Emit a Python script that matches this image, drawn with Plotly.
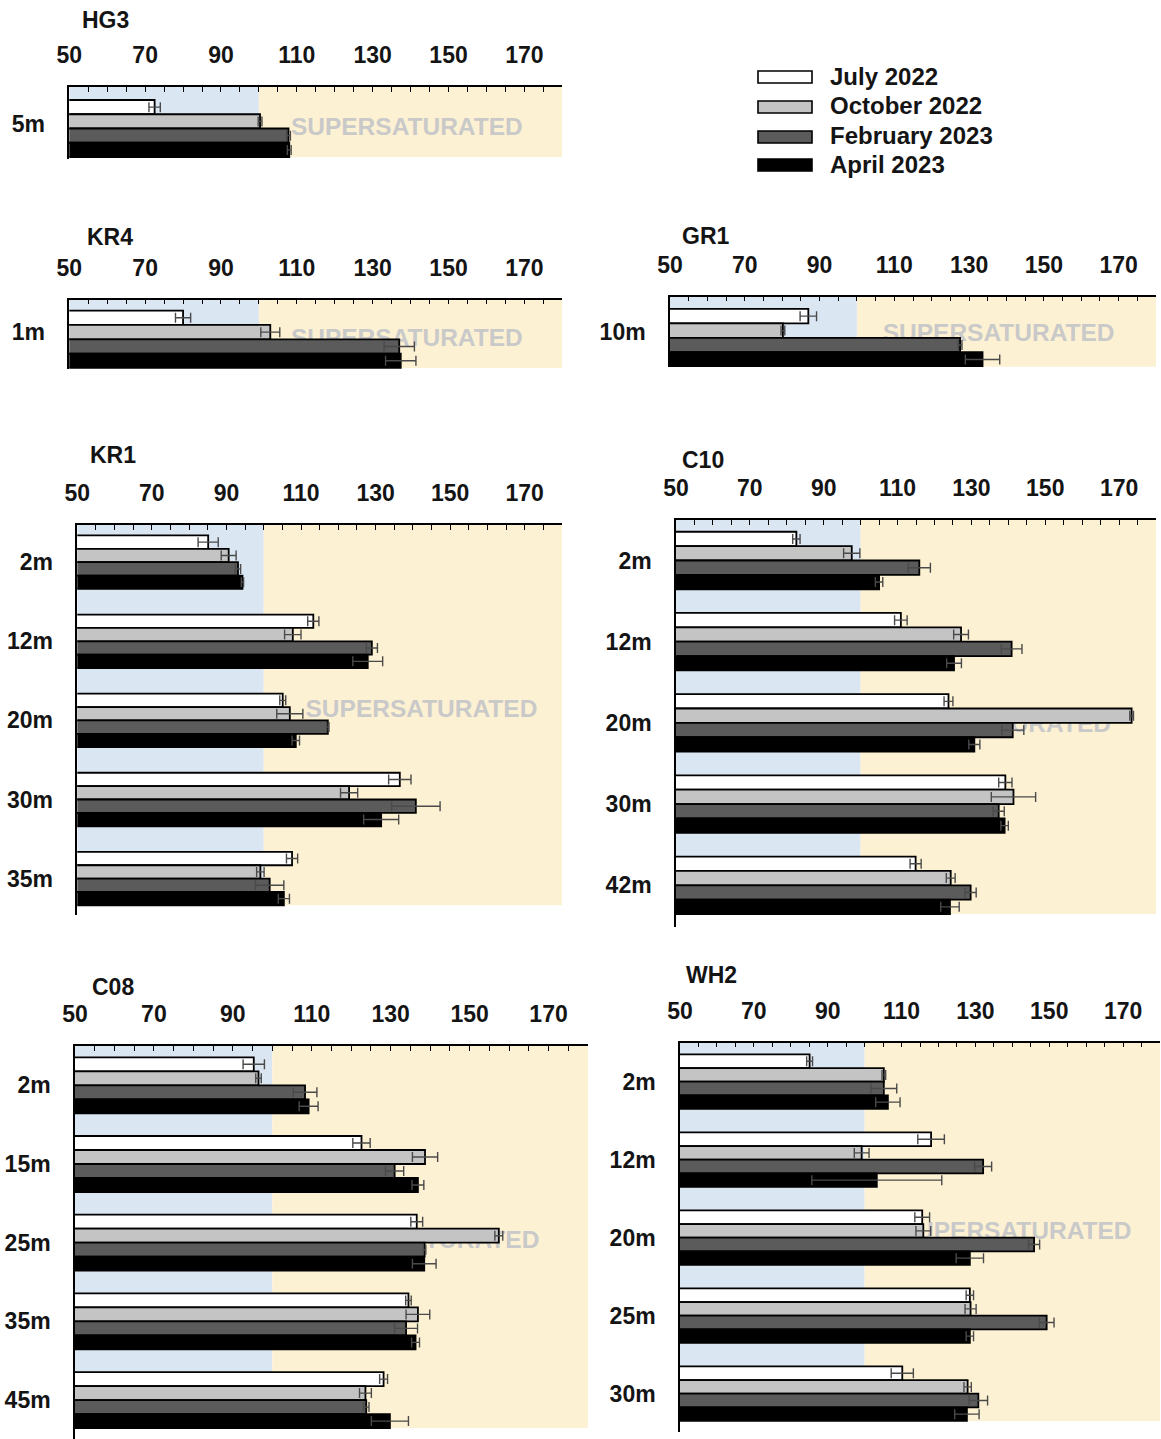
import plotly.graph_objects as go

W, H = 1161, 1439

SERIES = ["July 2022", "October 2022", "February 2023", "April 2023"]
X_TICKS = [50, 70, 90, 110, 130, 150, 170]

# ---------------- station data (% saturation, mean and error) ----------------
hg3_depth = ["5m"]
hg3_jul, hg3_jul_sd = [72.5], [1.5]
hg3_oct, hg3_oct_sd = [100.3], [0.5]
hg3_feb, hg3_feb_sd = [107.8], [0.5]
hg3_apr, hg3_apr_sd = [108.0], [0.5]

kr4_depth = ["1m"]
kr4_jul, kr4_jul_sd = [80.0], [2.0]
kr4_oct, kr4_oct_sd = [103.0], [2.5]
kr4_feb, kr4_feb_sd = [137.0], [4.0]
kr4_apr, kr4_apr_sd = [137.4], [4.0]

gr1_depth = ["10m"]
gr1_jul, gr1_jul_sd = [87.0], [2.2]
gr1_oct, gr1_oct_sd = [80.2], [0.5]
gr1_feb, gr1_feb_sd = [127.6], [0.5]
gr1_apr, gr1_apr_sd = [133.6], [4.6]

kr1_depth = ["2m", "12m", "20m", "30m", "35m"]
kr1_jul, kr1_jul_sd = [85.1, 113.3, 105.1, 136.5, 107.6], [2.7, 1.5, 0.8, 3.0, 1.5]
kr1_oct, kr1_oct_sd = [90.6, 107.8, 107.0, 122.9, 99.1], [2.0, 2.2, 3.5, 2.3, 1.0]
kr1_feb, kr1_feb_sd = [93.1, 129.0, 117.2, 140.8, 101.6], [0.7, 1.5, 0.3, 6.5, 3.8]
kr1_apr, kr1_apr_sd = [94.3, 127.9, 108.6, 131.5, 105.4], [0.3, 4.0, 1.0, 4.7, 1.5]

c10_depth = ["2m", "12m", "20m", "30m", "42m"]
c10_jul, c10_jul_sd = [82.6, 110.9, 123.8, 139.2, 114.9], [1.0, 1.7, 1.2, 1.8, 1.5]
c10_oct, c10_oct_sd = [97.6, 127.2, 173.4, 141.4, 124.4], [2.2, 2.0, 0.5, 6.0, 1.2]
c10_feb, c10_feb_sd = [115.9, 140.9, 141.2, 137.4, 129.8], [3.0, 2.8, 3.0, 1.5, 1.5]
c10_apr, c10_apr_sd = [105.0, 125.3, 130.8, 139.0, 124.2], [1.0, 2.0, 1.5, 1.0, 2.5]

c08_depth = ["2m", "15m", "25m", "35m", "45m"]
c08_jul, c08_jul_sd = [95.3, 122.6, 136.6, 134.5, 128.2], [2.7, 2.2, 1.5, 0.7, 1.0]
c08_oct, c08_oct_sd = [96.5, 138.7, 157.4, 136.9, 123.6], [0.7, 3.2, 1.0, 3.0, 1.5]
c08_feb, c08_feb_sd = [108.3, 131.0, 138.6, 133.9, 123.8], [3.0, 2.3, 0.3, 2.9, 0.7]
c08_apr, c08_apr_sd = [109.2, 136.9, 138.5, 136.3, 129.8], [2.4, 1.5, 3.0, 1.0, 4.7]

wh2_depth = ["2m", "12m", "20m", "25m", "30m"]
wh2_jul, wh2_jul_sd = [85.1, 118.0, 115.6, 128.5, 110.2], [0.8, 3.6, 2.0, 1.0, 3.0]
wh2_oct, wh2_oct_sd = [105.2, 99.2, 115.9, 128.7, 127.9], [0.5, 2.0, 2.0, 1.5, 1.0]
wh2_feb, wh2_feb_sd = [105.2, 132.1, 145.9, 149.3, 130.8], [3.5, 2.3, 1.5, 2.0, 2.5]
wh2_apr, wh2_apr_sd = [106.3, 103.3, 128.5, 128.5, 127.7], [3.3, 17.6, 3.7, 1.0, 3.3]

# ---------------- styling ----------------
FONT = "Liberation Sans, Arial, sans-serif"
TEXT_COLOR = "#141414"
BAR_COLORS = ["#ffffff", "#c4c4c4", "#5b5b5b", "#000000"]
ERR_COLOR = "#4a4a4a"
UNDER_COLOR = "#dbe6f3"
OVER_COLOR = "#fdf1d3"
SAT_TEXT_COLOR = "#c9c9c9"

# panel geometry in page pixels: plot left/right, axis line (top), centre of first
# depth group, height of one group of four bars, spacing between groups, bottom of
# the depth axis line, title position, label position for the shaded region,
# and a small vertical nudge for the depth labels
PANELS = [
    dict(name="HG3", depth=hg3_depth,
         vals=[hg3_jul, hg3_oct, hg3_feb, hg3_apr],
         errs=[hg3_jul_sd, hg3_oct_sd, hg3_feb_sd, hg3_apr_sd],
         left=69.3, right=562.3, top=87, c0=128.5, gh=57, pitch=80, bottom=158.5,
         tx=80, ty=20, sx=139.0, sy=124, shift=5),
    dict(name="KR4", depth=kr4_depth,
         vals=[kr4_jul, kr4_oct, kr4_feb, kr4_apr],
         errs=[kr4_jul_sd, kr4_oct_sd, kr4_feb_sd, kr4_apr_sd],
         left=69.3, right=562.3, top=299.5, c0=339.3, gh=57.3, pitch=80, bottom=369,
         tx=85, ty=237, sx=139.0, sy=335, shift=7),
    dict(name="GR1", depth=gr1_depth,
         vals=[gr1_jul, gr1_oct, gr1_feb, gr1_apr],
         errs=[gr1_jul_sd, gr1_oct_sd, gr1_feb_sd, gr1_apr_sd],
         left=670, right=1156, top=296.5, c0=337.8, gh=57.7, pitch=80, bottom=367,
         tx=680, ty=236, sx=137.9, sy=330, shift=6),
    dict(name="KR1", depth=kr1_depth,
         vals=[kr1_jul, kr1_oct, kr1_feb, kr1_apr],
         errs=[kr1_jul_sd, kr1_oct_sd, kr1_feb_sd, kr1_apr_sd],
         left=77.3, right=562, top=525, c0=562.2, gh=53.5, pitch=79.1, bottom=915,
         tx=88, ty=455, sx=142.3, sy=706, shift=0),
    dict(name="C10", depth=c10_depth,
         vals=[c10_jul, c10_oct, c10_feb, c10_apr],
         errs=[c10_jul_sd, c10_oct_sd, c10_feb_sd, c10_apr_sd],
         left=676, right=1156, top=520, c0=560.5, gh=57.5, pitch=81.2, bottom=926.7,
         tx=680, ty=460, sx=136.4, sy=721, shift=0),
    dict(name="C08", depth=c08_depth,
         vals=[c08_jul, c08_oct, c08_feb, c08_apr],
         errs=[c08_jul_sd, c08_oct_sd, c08_feb_sd, c08_apr_sd],
         left=75, right=588, top=1046, c0=1085.3, gh=56, pitch=78.7, bottom=1439,
         tx=90, ty=987, sx=138.3, sy=1237, shift=0),
    dict(name="WH2", depth=wh2_depth,
         vals=[wh2_jul, wh2_oct, wh2_feb, wh2_apr],
         errs=[wh2_jul_sd, wh2_oct_sd, wh2_feb_sd, wh2_apr_sd],
         left=680, right=1160, top=1042.7, c0=1081.7, gh=54.5, pitch=78.0, bottom=1431.7,
         tx=684, ty=975, sx=140.9, sy=1228, shift=0),
]


def fx(px):
    return px / W


def fy(py):
    return 1 - py / H


fig = go.Figure()
shapes = []
annotations = []
layout = {}

for i, p in enumerate(PANELS, start=1):
    xa = "x" if i == 1 else f"x{i}"
    ya = "y" if i == 1 else f"y{i}"
    n = len(p["depth"])
    frac = p["gh"] / p["pitch"]
    top_val = -(p["c0"] - p["top"]) / p["pitch"]
    bot_val = (p["bottom"] - p["c0"]) / p["pitch"]
    bars_end = (n - 1) + frac / 2

    # shaded undersaturated / supersaturated regions
    shapes.append(dict(type="rect", xref=xa, yref=ya, x0=50, x1=100,
                       y0=top_val, y1=bars_end, fillcolor=UNDER_COLOR,
                       line=dict(width=0), layer="below"))
    shapes.append(dict(type="rect", xref=xa, yref=ya, x0=100, x1=180,
                       y0=top_val, y1=bars_end, fillcolor=OVER_COLOR,
                       line=dict(width=0), layer="below"))
    sy_val = (p["sy"] - p["c0"]) / p["pitch"]
    shapes.append(dict(type="rect", xref=xa, yref=ya,
                       x0=p["sx"] - 20, x1=p["sx"] + 20,
                       y0=sy_val - 0.05, y1=sy_val + 0.05,
                       fillcolor="rgba(0,0,0,0)", line=dict(width=0), layer="below",
                       label=dict(text="<b>SUPERSATURATED</b>",
                                  textposition="middle center",
                                  font=dict(family=FONT, size=24.5, color=SAT_TEXT_COLOR))))

    # one bar trace per sampling campaign
    for k in range(4):
        fig.add_trace(go.Bar(
            x=p["vals"][k], y=p["depth"], orientation="h",
            name=SERIES[k], showlegend=False,
            xaxis=xa, yaxis=ya,
            width=frac / 4, offset=-frac / 2 + k * frac / 4,
            marker=dict(color=BAR_COLORS[k], line=dict(color="#000000", width=1.8)),
            error_x=dict(type="data", array=p["errs"][k], visible=True,
                         color=ERR_COLOR, thickness=1.4, width=5),
        ))

    xkey = "xaxis" if i == 1 else f"xaxis{i}"
    ykey = "yaxis" if i == 1 else f"yaxis{i}"
    layout[xkey] = dict(
        domain=[fx(p["left"]), fx(p["right"])], anchor=ya, side="top",
        range=[50, 180], tickvals=X_TICKS, showgrid=False, zeroline=False,
        showline=True, linecolor="#000000", linewidth=1.5,
        ticks="inside", ticklen=5, tickwidth=1.2, tickcolor="#000000",
        minor=dict(dtick=5, tick0=50, ticks="inside", ticklen=5, tickwidth=1.2,
                   tickcolor="#000000", showgrid=False),
        tickfont=dict(family=FONT, size=23, color=TEXT_COLOR, weight="bold"),
        ticklabelstandoff=13, automargin=False, fixedrange=True,
    )
    layout[ykey] = dict(
        domain=[fy(p["bottom"]), fy(p["top"])], anchor=xa,
        type="category", categoryorder="array", categoryarray=p["depth"],
        range=[bot_val, top_val], showgrid=False, zeroline=False,
        showline=True, linecolor="#000000", linewidth=1.5, ticks="",
        tickfont=dict(family=FONT, size=23, color=TEXT_COLOR, weight="bold"),
        ticklabelstandoff=18, ticklabelshift=p["shift"],
        automargin=False, fixedrange=True,
    )

    annotations.append(dict(text=f"<b>{p['name']}</b>", xref="paper", yref="paper",
                            x=fx(p["tx"]), y=fy(p["ty"]), xanchor="left", yanchor="middle",
                            showarrow=False,
                            font=dict(family=FONT, size=23, color=TEXT_COLOR)))

# legend drawn as swatches with labels
LEG_BOX_Y = [77, 107, 137, 165]
LEG_TEXT_Y = [76, 105.5, 135, 164.5]
for k, name in enumerate(SERIES):
    shapes.append(dict(type="rect", xref="paper", yref="paper",
                       x0=fx(758), x1=fx(812),
                       y0=fy(LEG_BOX_Y[k] + 6), y1=fy(LEG_BOX_Y[k] - 6),
                       fillcolor=BAR_COLORS[k], line=dict(color="#000000", width=1.6)))
    annotations.append(dict(text=f"<b>{name}</b>", xref="paper", yref="paper",
                            x=fx(828), y=fy(LEG_TEXT_Y[k]), xanchor="left", yanchor="middle",
                            showarrow=False,
                            font=dict(family=FONT, size=24, color=TEXT_COLOR)))

fig.update_layout(
    width=W, height=H, margin=dict(l=0, r=0, t=0, b=0, autoexpand=False),
    paper_bgcolor="#ffffff", plot_bgcolor="#ffffff",
    barmode="overlay", showlegend=False,
    shapes=shapes, annotations=annotations,
    font=dict(family=FONT, color=TEXT_COLOR),
    **layout,
)

fig.write_html("out.html")
